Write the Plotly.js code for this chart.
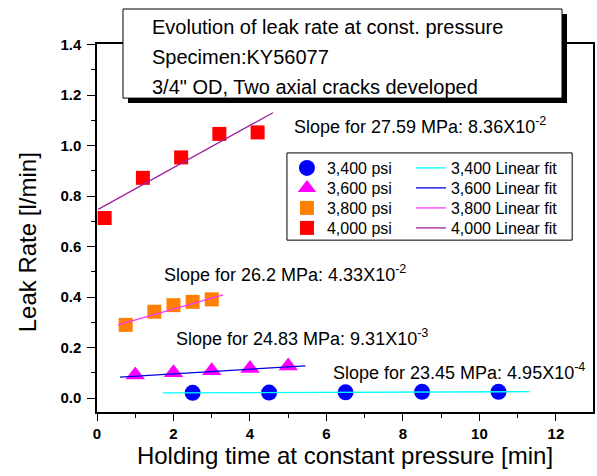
<!DOCTYPE html>
<html>
<head>
<meta charset="utf-8">
<script src="https://cdn.plot.ly/plotly-3.0.1.min.js"></script>
<style>html,body{margin:0;padding:0;background:#fff;}#chart{width:597px;height:476px;}</style>
</head>
<body>
<div id="chart"></div>
<script>
// ---- data ----
var seriesNames = ["3,400 psi", "3,600 psi", "3,800 psi", "4,000 psi"];
var fitNames = ["3,400 Linear fit", "3,600 Linear fit", "3,800 Linear fit", "4,000 Linear fit"];

var time3400 = [2.5, 4.5, 6.5, 8.5, 10.5];
var leak3400 = [0.021, 0.022, 0.023, 0.025, 0.025];

var time3600 = [1, 2, 3, 4, 5];
var leak3600 = [0.091, 0.100, 0.108, 0.117, 0.127];

var time3800 = [0.75, 1.5, 2.0, 2.5, 3.0];
var leak3800 = [0.290, 0.342, 0.368, 0.381, 0.391];

var time4000 = [0.2, 1.2, 2.2, 3.2, 4.2];
var leak4000 = [0.713, 0.872, 0.953, 1.046, 1.052];

// linear-fit line end points (as drawn)
var fitTime3400 = [1.72, 11.32];
var fitLeak3400 = [0.0208, 0.0255];
var fitTime3600 = [0.6, 5.45];
var fitLeak3600 = [0.083, 0.128];
var fitTime3800 = [0.55, 3.3];
var fitLeak3800 = [0.290, 0.409];
var fitTime4000 = [0.03, 4.6];
var fitLeak4000 = [0.7475, 1.13];

var slopeLabels = [
  "Slope for 27.59 MPa: 8.36X10<sup>-2</sup>",
  "Slope for 26.2 MPa: 4.33X10<sup>-2</sup>",
  "Slope for 24.83 MPa: 9.31X10<sup>-3</sup>",
  "Slope for 23.45 MPa: 4.95X10<sup>-4</sup>"
];
var titleLines = [
  "Evolution of leak rate at const. pressure",
  "Specimen:KY56077",
  "3/4\" OD, Two axial cracks developed"
];
var xTicks = [0, 2, 4, 6, 8, 10, 12];
var yTicks = [0.0, 0.2, 0.4, 0.6, 0.8, 1.0, 1.2, 1.4];

// ---- styling ----
var FONT = "Arial, 'Liberation Sans', Helvetica, sans-serif";

var traces = [
  {x: time3400, y: leak3400, name: seriesNames[0], mode: "markers", type: "scatter",
   marker: {symbol: "circle", size: 16, color: "#0000FF"}, legend: "legend"},
  {x: time3600, y: leak3600, name: seriesNames[1], mode: "markers", type: "scatter",
   marker: {symbol: "triangle-up", size: 17, color: "#FF00FF"}, legend: "legend3"},
  {x: time3800, y: leak3800, name: seriesNames[2], mode: "markers", type: "scatter",
   marker: {symbol: "square", size: 14, color: "#FF8000"}, legend: "legend5"},
  {x: time4000, y: leak4000, name: seriesNames[3], mode: "markers", type: "scatter",
   marker: {symbol: "square", size: 14, color: "#FF0000"}, legend: "legend7"},

  {x: fitTime3400, y: fitLeak3400, name: fitNames[0], mode: "lines", type: "scatter",
   line: {color: "#00FFFF", width: 1.3}, legend: "legend2"},
  {x: fitTime3600, y: fitLeak3600, name: fitNames[1], mode: "lines", type: "scatter",
   line: {color: "#0000E0", width: 1.3}, legend: "legend4"},
  {x: fitTime3800, y: fitLeak3800, name: fitNames[2], mode: "lines", type: "scatter",
   line: {color: "#FF33FF", width: 1.3}, legend: "legend6"},
  {x: fitTime4000, y: fitLeak4000, name: fitNames[3], mode: "lines", type: "scatter",
   line: {color: "#A020A0", width: 1.3}, legend: "legend8"}
];

function titleAnn(text, py) {
  return {xref: "paper", yref: "paper", x: 0.1069, y: py, xanchor: "left", yanchor: "middle",
          text: text, showarrow: false, font: {family: FONT, size: 20, color: "#000"}};
}
function slopeAnn(text, x, y) {
  return {xref: "x", yref: "y", x: x, y: y, xanchor: "left", yanchor: "middle",
          text: text, showarrow: false, font: {family: FONT, size: 18, color: "#000"}};
}
function legendBox(x, y) {
  return {x: x, y: y, xanchor: "left", yanchor: "top",
          bgcolor: "rgba(0,0,0,0)", borderwidth: 0, tracegroupgap: 0,
          font: {family: FONT, size: 16, color: "#000"}};
}
var legendRowTops = [0.7092, 0.6549, 0.6005, 0.5462];
var legendColLefts = [0.383, 0.633];

var layout = {
  width: 597, height: 476,
  margin: {l: 97, r: 4, t: 44, b: 64, autoexpand: false},
  paper_bgcolor: "#fff", plot_bgcolor: "#fff",
  font: {family: FONT, color: "#000"},
  showlegend: true,
  xaxis: {
    range: [0, 12.97], tickvals: xTicks, ticktext: xTicks.map(String),
    ticks: "outside", ticklen: 7, tickwidth: 1.3, tickcolor: "#000",
    minor: {dtick: 1, tick0: 0, ticks: "outside", ticklen: 4, tickwidth: 1.2, tickcolor: "#000", showgrid: false},
    showline: true, linecolor: "#000", linewidth: 1.5, mirror: true,
    showgrid: false, zeroline: false,
    tickfont: {family: FONT, size: 15, color: "#000", weight: "bold"},
    title: {text: "Holding time at constant pressure [min]", font: {family: FONT, size: 24, color: "#000"}, standoff: 0}
  },
  yaxis: {
    range: [-0.055, 1.402], tickvals: yTicks, ticktext: yTicks.map(function(v){return v.toFixed(1);}),
    ticks: "outside", ticklen: 8, tickwidth: 1.3, tickcolor: "#000",
    minor: {dtick: 0.1, tick0: 0, ticks: "outside", ticklen: 4, tickwidth: 1.2, tickcolor: "#000", showgrid: false},
    showline: true, linecolor: "#000", linewidth: 1.5, mirror: true,
    showgrid: false, zeroline: false,
    tickfont: {family: FONT, size: 15, color: "#000", weight: "bold"},
    ticklabelstandoff: 3,
    title: {text: ""}
  },
  yaxis2: {
    overlaying: "y", side: "right", anchor: "x", matches: "y", range: [-0.055, 1.402],
    tickvals: yTicks, showticklabels: false,
    ticks: "inside", ticklen: 6, tickwidth: 1.2, tickcolor: "#000",
    minor: {dtick: 0.1, tick0: 0, ticks: "inside", ticklen: 3, tickwidth: 1, tickcolor: "#000", showgrid: false},
    showline: false, showgrid: false, zeroline: false
  },
  legend:  legendBox(legendColLefts[0], legendRowTops[0]),
  legend2: legendBox(legendColLefts[1], legendRowTops[0]),
  legend3: legendBox(legendColLefts[0], legendRowTops[1]),
  legend4: legendBox(legendColLefts[1], legendRowTops[1]),
  legend5: legendBox(legendColLefts[0], legendRowTops[2]),
  legend6: legendBox(legendColLefts[1], legendRowTops[2]),
  legend7: legendBox(legendColLefts[0], legendRowTops[3]),
  legend8: legendBox(legendColLefts[1], legendRowTops[3]),
  shapes: [
    // title box shadow
    {type: "rect", xref: "paper", yref: "paper", x0: 0.0625, x1: 0.9476, y0: 0.8397, y1: 1.0815,
     fillcolor: "#000", line: {width: 0}, layer: "above"},
    // title box
    {type: "rect", xref: "paper", yref: "paper", x0: 0.0524, x1: 0.9375, y0: 0.853, y1: 1.0951,
     fillcolor: "#fff", line: {color: "#000", width: 1}, layer: "above"},
    // legend box
    {type: "rect", xref: "paper", yref: "paper", x0: 0.383, x1: 0.958, y0: 0.467, y1: 0.704,
     fillcolor: "rgba(0,0,0,0)", line: {color: "#000", width: 1}, layer: "above"}
  ],
  annotations: [
    titleAnn(titleLines[0], 1.0462),
    titleAnn(titleLines[1], 0.9647),
    titleAnn(titleLines[2], 0.8832),
    slopeAnn(slopeLabels[0], 5.10, 1.081),
    slopeAnn(slopeLabels[1], 1.70, 0.495),
    slopeAnn(slopeLabels[2], 2.01, 0.239),
    slopeAnn(slopeLabels[3], 6.12, 0.104),
    {xref: "paper", yref: "paper", x: -0.14, y: 0.46, xanchor: "center", yanchor: "middle",
     text: "Leak Rate [l/min]", textangle: -90, showarrow: false,
     font: {family: FONT, size: 24, color: "#000"}}
  ]
};

Plotly.newPlot("chart", traces, layout, {displayModeBar: false, responsive: false});
</script>
</body>
</html>
